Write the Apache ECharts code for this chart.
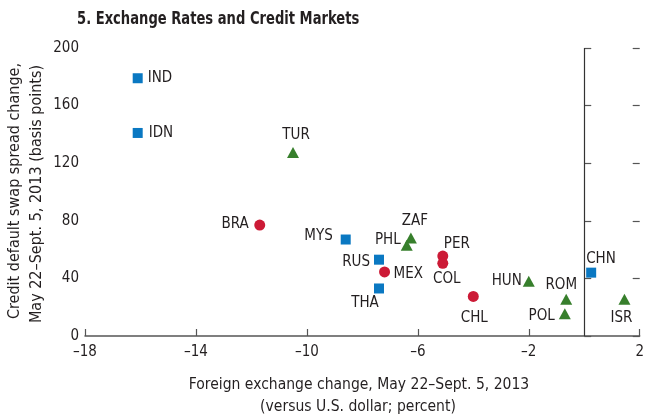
<!DOCTYPE html>
<html>
<head>
<meta charset="utf-8">
<title>Exchange Rates and Credit Markets</title>
<script src="https://cdn.jsdelivr.net/npm/echarts@6/dist/echarts.min.js"></script>
<style>
  html, body { margin: 0; padding: 0; background: #fff; }
  #chart { width: 647px; height: 418px; }
</style>
</head>
<body>
<div id="chart"></div>
<script>
// Country codes and their changes, May 22 – Sept. 5, 2013
const countries = ['IND', 'IDN', 'MYS', 'RUS', 'THA', 'CHN',
                   'BRA', 'MEX', 'PER', 'COL', 'CHL',
                   'TUR', 'ZAF', 'PHL', 'HUN', 'ROM', 'POL', 'ISR'];
// Foreign exchange change versus U.S. dollar (percent)
const fxChange = [-16.1, -16.1, -8.6, -7.4, -7.4, 0.25,
                  -11.7, -7.2, -5.1, -5.1, -4.0,
                  -10.5, -6.25, -6.4, -2.0, -0.65, -0.7, 1.45];
// Credit default swap spread change (basis points)
const cdsChange = [179, 141, 67, 53, 33, 44,
                   77, 44.5, 55.5, 50.5, 27.5,
                   127.5, 68, 63, 38, 25.5, 15.5, 25.5];
// Marker group of each country (0 = squares, 1 = circles, 2 = triangles)
const markerGroup = [0, 0, 0, 0, 0, 0,
                     1, 1, 1, 1, 1,
                     2, 2, 2, 2, 2, 2, 2];
const xTicks = [-18, -14, -10, -6, -2, 2];
const yTicks = [0, 40, 80, 120, 160, 200];

// Label anchoring next to each marker: [text align, dx, dy]
const labelPlace = {
  IND: ['left', 10, 0],  IDN: ['left', 11, 0],  MYS: ['right', -13, -3],
  RUS: ['right', -9, 2], THA: ['center', -14, 15], CHN: ['left', -5, -14],
  BRA: ['right', -11, -1], MEX: ['left', 9, 2], PER: ['left', 1, -12],
  COL: ['center', 4, 16], CHL: ['center', 1, 22],
  TUR: ['center', 3, -17], ZAF: ['center', 4, -17], PHL: ['right', -6, -5],
  HUN: ['right', -7, 0], ROM: ['center', -5, -14], POL: ['right', -10, 2],
  ISR: ['center', -3, 19]
};

const FONT = "'DejaVu Sans Condensed', 'Liberation Sans Narrow', sans-serif";
const TEXT = '#231f20';
const groupStyle = [
  { symbol: 'rect', size: 10, color: '#0a78c2' },
  { symbol: 'circle', size: 11, color: '#cc1a36' },
  { symbol: 'triangle', size: [12, 11], color: '#377f2c' }
];

function pointsFor(g) {
  const out = [];
  countries.forEach((c, i) => {
    if (markerGroup[i] !== g) return;
    const p = labelPlace[c];
    out.push({
      name: c,
      value: [fxChange[i], cdsChange[i]],
      label: { align: p[0], offset: [p[1], p[2]] }
    });
  });
  return out;
}

const dash = v => String(v).replace('-', '\u2013');

const series = groupStyle.map((s, g) => ({
  type: 'scatter',
  symbol: s.symbol,
  symbolSize: s.size,
  itemStyle: { color: s.color, opacity: 1 },
  data: pointsFor(g),
  label: {
    show: true,
    position: 'inside',
    verticalAlign: 'middle',
    formatter: '{b}',
    color: TEXT,
    fontFamily: FONT,
    fontSize: 15
  },
  emphasis: { disabled: true },
  z: 3
}));

// Vertical reference line at zero exchange-rate change
series[0].markLine = {
  silent: true,
  symbol: 'none',
  label: { show: false },
  lineStyle: { color: '#333', width: 1.2, type: 'solid' },
  data: [{ xAxis: 0 }]
};

const chart = echarts.init(document.getElementById('chart'), null, { renderer: 'canvas' });
chart.setOption({
  animation: false,
  backgroundColor: '#fff',
  grid: { left: 85, right: 5, top: 48, bottom: 82 },
  xAxis: {
    type: 'value',
    min: xTicks[0], max: xTicks[xTicks.length - 1], interval: 4,
    axisLine: { show: true, lineStyle: { color: '#555', width: 1.5 } },
    axisTick: { show: true, inside: true, length: 7, lineStyle: { color: '#555', width: 1.2 } },
    axisLabel: { margin: 9, color: TEXT, fontFamily: FONT, fontSize: 15, formatter: dash },
    splitLine: { show: false }
  },
  yAxis: [{
    type: 'value',
    min: yTicks[0], max: yTicks[yTicks.length - 1], interval: 40,
    axisLine: { show: false },
    axisTick: { show: true, inside: true, length: 7, lineStyle: { color: '#555', width: 1.2 } },
    axisLabel: { margin: 6, color: TEXT, fontFamily: FONT, fontSize: 15, formatter: dash },
    splitLine: { show: false }
  }, {
    type: 'value', position: 'right',
    min: yTicks[0], max: yTicks[yTicks.length - 1], interval: 40,
    axisLine: { show: false },
    axisTick: { show: true, inside: true, length: 7, lineStyle: { color: '#555', width: 1.2 } },
    axisLabel: { show: false },
    splitLine: { show: false }
  }],
  graphic: [
    {
      type: 'text', x: 77, y: 19, scaleX: 0.81,
      style: { text: '5. Exchange Rates and Credit Markets', fill: TEXT,
               font: "bold 18px " + FONT, align: 'left', verticalAlign: 'middle' }
    },
    {
      type: 'text', x: 359, y: 385, scaleX: 0.97,
      style: { text: 'Foreign exchange change, May 22\u2013Sept. 5, 2013', fill: TEXT,
               font: "16px " + FONT, align: 'center', verticalAlign: 'middle' }
    },
    {
      type: 'text', x: 358, y: 407, scaleX: 0.97,
      style: { text: '(versus U.S. dollar; percent)', fill: TEXT,
               font: "16px " + FONT, align: 'center', verticalAlign: 'middle' }
    },
    {
      type: 'text', x: 15, y: 191, rotation: Math.PI / 2,
      style: { text: 'Credit default swap spread change,', fill: TEXT,
               font: "16px " + FONT, align: 'center', verticalAlign: 'middle' }
    },
    {
      type: 'text', x: 37, y: 194, rotation: Math.PI / 2,
      style: { text: 'May 22\u2013Sept. 5, 2013 (basis points)', fill: TEXT,
               font: "16px " + FONT, align: 'center', verticalAlign: 'middle' }
    }
  ],
  series: series
});
</script>
</body>
</html>
